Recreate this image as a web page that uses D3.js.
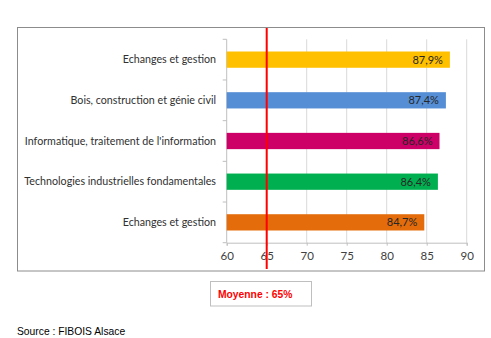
<!DOCTYPE html>
<html><head><meta charset="utf-8">
<script src="https://cdn.jsdelivr.net/npm/d3@7"></script>
<style>
html,body{margin:0;padding:0;background:#fff;}
svg{display:block;}
</style></head>
<body>
<svg id="c" width="491" height="338"></svg>
<script>
const categories = ["Echanges et gestion","Bois, construction et génie civil","Informatique, traitement de l'information","Technologies industrielles fondamentales","Echanges et gestion"];
const values = [87.9, 87.4, 86.6, 86.4, 84.7];
const valueLabels = ["87,9%","87,4%","86,6%","86,4%","84,7%"];
const colors = ["#FFC000","#558ED5","#CC0066","#00B050","#E46C0A"];
const xTicks = [60,65,70,75,80,85,90];
const average = 65;
const averageLabel = "Moyenne : 65%";
const sourceLabel = "Source : FIBOIS Alsace";

const svg = d3.select("#c");
const font = "Lato, 'Open Sans', sans-serif";

// outer border
svg.append("rect").attr("x",17.5).attr("y",27.5).attr("width",467).attr("height",243.5)
  .attr("fill","#fff").attr("stroke","#8c8c8c").attr("stroke-width",1);

const x = d3.scaleLinear().domain([60,90]).range([226.7,466.7]);
const y = d3.scaleBand().domain(d3.range(categories.length)).range([39.3,242.7]).paddingInner(0.6).paddingOuter(0.3);

// gridlines
svg.append("g").selectAll("line").data(xTicks.slice(1)).join("line")
  .attr("x1",d=>x(d)).attr("x2",d=>x(d)).attr("y1",39.3).attr("y2",242.7)
  .attr("stroke","#d9d9d9").attr("stroke-width",1);

// x axis
const gx = svg.append("g").attr("transform","translate(0,242.7)")
  .call(d3.axisBottom(x).tickValues(xTicks).tickSize(3).tickPadding(6).tickFormat(d3.format("d")));
gx.select(".domain").attr("stroke","#bfbfbf");
gx.selectAll(".tick line").attr("stroke","#bfbfbf");
gx.selectAll("text").attr("font-family",font).attr("font-size",11.5).attr("fill","#404040");

// y axis line + ticks at band boundaries
svg.append("line").attr("x1",226.7).attr("x2",226.7).attr("y1",39.3).attr("y2",242.7).attr("stroke","#bfbfbf");
svg.append("g").selectAll("line").data(d3.range(categories.length+1)).join("line")
  .attr("x1",222.7).attr("x2",226.7)
  .attr("y1",(d)=>39.3 + d*(203.4/categories.length)).attr("y2",(d)=>39.3 + d*(203.4/categories.length))
  .attr("stroke","#bfbfbf");

// bars
svg.append("g").selectAll("rect").data(values).join("rect")
  .attr("x",x(60)).attr("y",(d,i)=>y(i)).attr("width",d=>x(d)-x(60)).attr("height",y.bandwidth())
  .attr("fill",(d,i)=>colors[i]);

// category labels
svg.append("g").selectAll("text").data(categories).join("text")
  .attr("x",216).attr("y",(d,i)=>y(i)+y.bandwidth()/2).attr("dy","0.35em")
  .attr("text-anchor","end").attr("font-family",font).attr("font-size",10.7).attr("fill","#303030")
  .text(d=>d);

// value labels
svg.append("g").selectAll("text").data(values).join("text")
  .attr("x",d=>x(d)-7).attr("y",(d,i)=>y(i)+y.bandwidth()/2).attr("dy","0.36em")
  .attr("text-anchor","end").attr("font-family",font).attr("font-size",11).attr("fill","#262626")
  .text((d,i)=>valueLabels[i]);

// average line
svg.append("line").attr("x1",x(average)).attr("x2",x(average)).attr("y1",28).attr("y2",269)
  .attr("stroke","#ff0000").attr("stroke-width",2);

// average box
svg.append("rect").attr("x",210.5).attr("y",281.5).attr("width",101).attr("height",24.5)
  .attr("fill","#fff").attr("stroke","#bfbfbf");
svg.append("text").attr("x",218).attr("y",294).attr("dy","0.35em")
  .attr("font-family","Arial, 'Liberation Sans', sans-serif").attr("font-weight","bold").attr("font-size",10.3).attr("fill","#ff0000")
  .text(averageLabel);

// source
svg.append("text").attr("x",17).attr("y",331).attr("dy","0.35em")
  .attr("font-family","Arial, 'Liberation Sans', sans-serif").attr("font-size",10.3).attr("fill","#000")
  .text(sourceLabel);
</script>
</body></html>
